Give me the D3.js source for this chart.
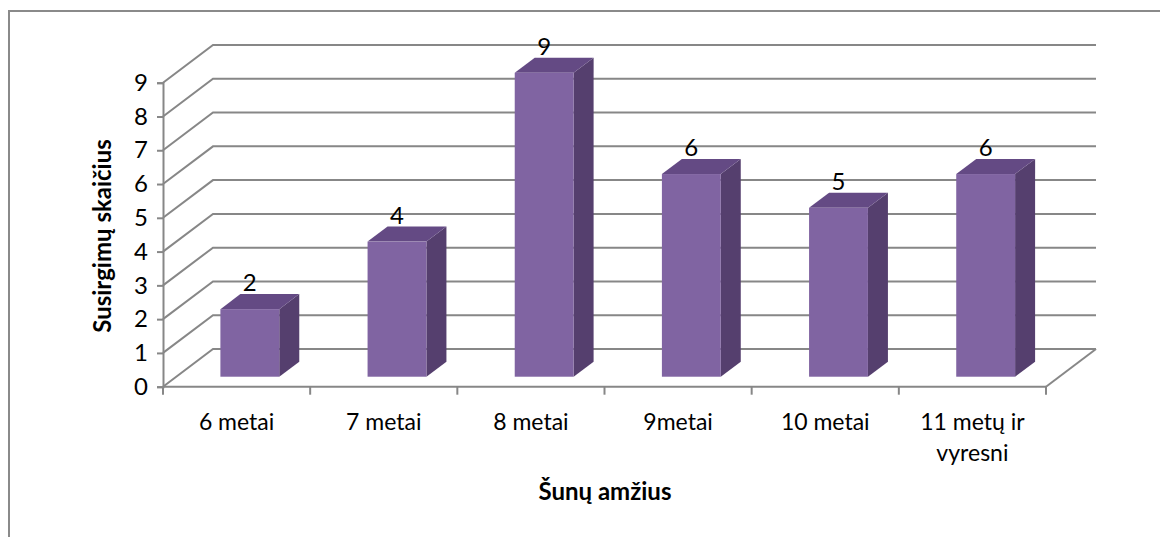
<!DOCTYPE html>
<html>
<head>
<meta charset="utf-8">
<script src="https://cdn.jsdelivr.net/npm/d3@7"></script>
<style>
  body { margin: 0; background: #fff; }
  text { font-family: Lato, "Open Sans", sans-serif; fill: #000; }
</style>
</head>
<body>
<div id="chart-area"></div>
<script>
// data
const categories = ["6 metai", "7 metai", "8 metai", "9metai", "10 metai", "11 metų ir vyresni"]
const categoryLines = [["6 metai"], ["7 metai"], ["8 metai"], ["9metai"], ["10 metai"], ["11 metų ir", "vyresni"]]
const values = [2, 4, 9, 6, 5, 6]
const yTicks = [0, 1, 2, 3, 4, 5, 6, 7, 8, 9]

const WIDTH = 1160
const HEIGHT = 537

// front plane of the 3D box
const LEFT = 163, RIGHT = 1046, TOP = 82.7, BOTTOM = 386.7
// depth offset of the back wall
const DX = 50, DY = -37.7
// bar placement inside depth
const BAR_F = 0.265, BAR_B = 0.665

const GRID = "#878787"

const svg = d3.select("#chart-area").append("svg")
  .attr("width", WIDTH)
  .attr("height", HEIGHT)

// outer border (cut at the right and bottom of the picture)
svg.append("rect")
  .attr("x", 9).attr("y", 11)
  .attr("width", 1160).attr("height", 540)
  .attr("fill", "none")
  .attr("stroke", "#8a8a8a")
  .attr("stroke-width", 2)

const x = d3.scaleBand()
  .domain(categories)
  .range([LEFT, RIGHT])

const xBar = d3.scaleBand()
  .domain(categories)
  .range([LEFT, RIGHT])
  .paddingInner(0.6)
  .paddingOuter(0.3)

const y = d3.scaleLinear()
  .domain([0, 9])
  .range([BOTTOM, TOP])

// gridlines: side wall diagonal + back wall line
const grid = svg.append("g")
yTicks.forEach(t => {
  grid.append("polyline")
    .attr("points", [[LEFT, y(t)], [LEFT + DX, y(t) + DY], [RIGHT + DX, y(t) + DY]].join(" "))
    .attr("fill", "none")
    .attr("stroke", GRID)
    .attr("stroke-width", 2)
})
// floor front right diagonal
grid.append("line")
  .attr("x1", RIGHT).attr("y1", y(0))
  .attr("x2", RIGHT + DX).attr("y2", y(0) + DY)
  .attr("stroke", GRID).attr("stroke-width", 2)

// Y axis
const yAxisGroup = svg.append("g")
  .attr("transform", `translate(${LEFT}, 0)`)
  .call(d3.axisLeft(y).tickValues(yTicks).tickSize(6).tickPadding(9))
yAxisGroup.select(".domain").attr("stroke", GRID).attr("stroke-width", 2)
yAxisGroup.selectAll(".tick line").attr("stroke", GRID).attr("stroke-width", 2)
yAxisGroup.selectAll(".tick text")
  .attr("font-size", "24px")
  .attr("font-family", "Lato, sans-serif")
  .attr("fill", "#000")

// X axis (ticks at category edges)
const xAxisGroup = svg.append("g")
  .attr("transform", `translate(0, ${BOTTOM})`)
xAxisGroup.append("line")
  .attr("x1", LEFT).attr("x2", RIGHT)
  .attr("stroke", GRID).attr("stroke-width", 2)
const edges = categories.map(c => x(c)).concat([RIGHT])
xAxisGroup.selectAll(".edge").data(edges).enter().append("line")
  .attr("class", "edge")
  .attr("x1", d => d).attr("x2", d => d)
  .attr("y1", 0).attr("y2", 8)
  .attr("stroke", GRID).attr("stroke-width", 2)

xAxisGroup.selectAll(".cat").data(categories).enter().append("text")
  .attr("class", "cat")
  .attr("x", d => x(d) + x.bandwidth() / 2)
  .attr("y", 43)
  .attr("text-anchor", "middle")
  .attr("font-size", "23px")
  .each(function (d, i) {
    d3.select(this).selectAll("tspan").data(categoryLines[i]).enter().append("tspan")
      .attr("x", x(d) + x.bandwidth() / 2)
      .attr("dy", (l, j) => j === 0 ? 0 : 31)
      .text(l => l)
  })

// bars
const bars = svg.append("g")
values.forEach((v, i) => {
  const c = categories[i]
  const x0 = xBar(c) + DX * BAR_F
  const x1 = x0 + xBar.bandwidth()
  const yb = y(0) + DY * BAR_F
  const yt = y(v) + DY * BAR_F
  const ddx = DX * (BAR_B - BAR_F), ddy = DY * (BAR_B - BAR_F)

  // side
  bars.append("polygon")
    .attr("points", [[x1, yb], [x1 + ddx, yb + ddy], [x1 + ddx, yt + ddy], [x1, yt]].join(" "))
    .attr("fill", "#553f6e")
  // top
  bars.append("polygon")
    .attr("points", [[x0, yt], [x1, yt], [x1 + ddx, yt + ddy], [x0 + ddx, yt + ddy]].join(" "))
    .attr("fill", "#644a84")
  // front
  bars.append("rect")
    .attr("x", x0).attr("y", yt)
    .attr("width", x1 - x0).attr("height", yb - yt)
    .attr("fill", "#8064a2")
  // label
  bars.append("text")
    .attr("x", (x0 + x1) / 2)
    .attr("y", yt - 18)
    .attr("text-anchor", "middle")
    .attr("font-size", "24px")
    .text(v)
})

// axis titles
svg.append("text")
  .attr("x", 605).attr("y", 500)
  .attr("text-anchor", "middle")
  .attr("font-size", "24px")
  .attr("font-weight", "bold")
  .text("Šunų amžius")

svg.append("text")
  .attr("transform", "translate(111, 236) rotate(-90)")
  .attr("text-anchor", "middle")
  .attr("font-size", "24px")
  .attr("font-weight", "bold")
  .text("Susirgimų skaičius")
</script>
</body>
</html>
